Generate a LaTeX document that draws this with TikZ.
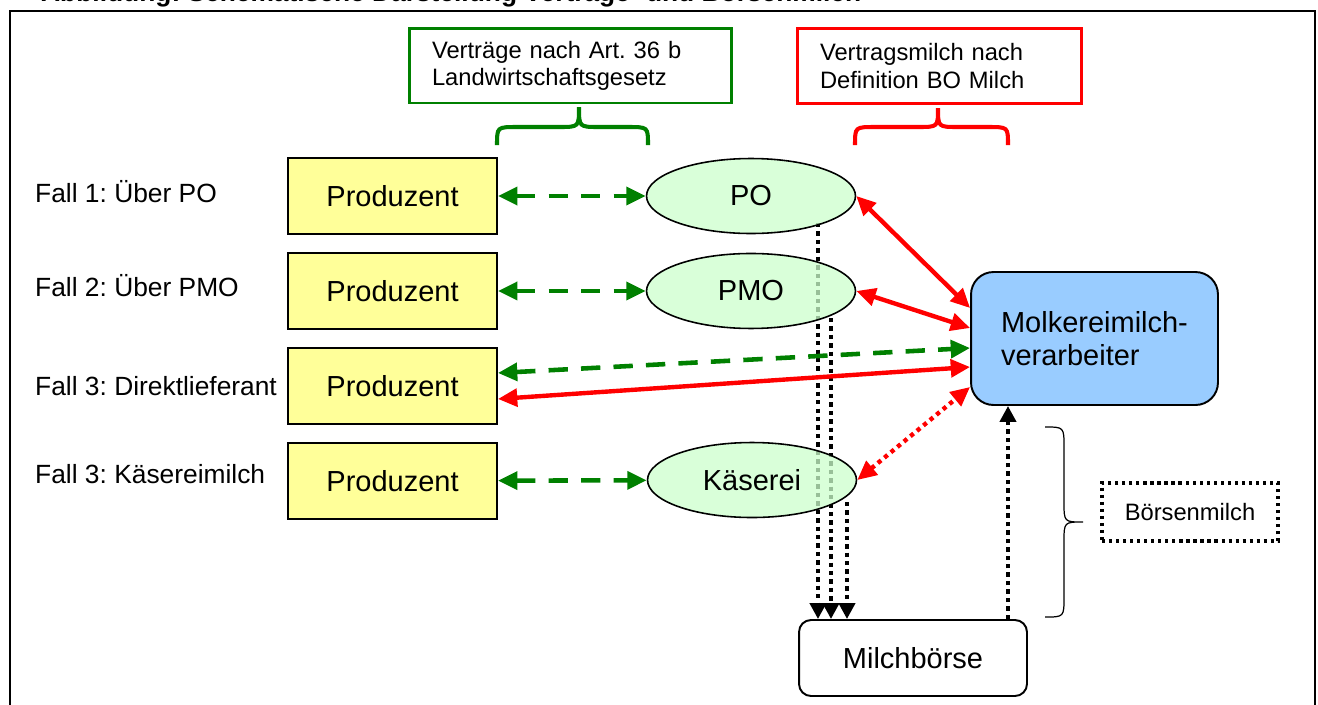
\documentclass[tikz,border=0pt]{standalone}
\usepackage{fontspec}
\setmainfont{Liberation Sans}
\usetikzlibrary{shapes.geometric,arrows.meta,positioning,backgrounds}
\definecolor{prodgelb}{HTML}{FFFF99}
\definecolor{orggruen}{HTML}{CCFFCC}
\definecolor{molkblau}{HTML}{99CCFF}
\definecolor{vgruen}{HTML}{008000}
\frenchspacing
\tikzset{
  produzent/.style = {rectangle, draw, line width=1.1pt, fill=prodgelb, minimum width=4.18cm, minimum height=1.52cm, font=\fontsize{16.5}{19}\selectfont},
  organisation/.style = {ellipse, draw, line width=0.9pt, fill=orggruen, fill opacity=0.75, text opacity=1, minimum width=4.18cm, minimum height=1.5cm, inner sep=0pt, font=\fontsize{16.5}{19}\selectfont},
  verarbeiter/.style = {rectangle, rounded corners=0.45cm, draw, line width=1.1pt, fill=molkblau, minimum width=4.94cm, minimum height=2.66cm, align=left, font=\fontsize{16.5}{18.8}\selectfont},
  boerse/.style = {rectangle, rounded corners=0.24cm, draw, line width=1.1pt, minimum width=4.56cm, minimum height=1.52cm, font=\fontsize{16.5}{19}\selectfont},
  boersenmilch/.style = {rectangle, draw, line width=1.8pt, dash pattern=on 1.8pt off 2.2pt, minimum width=3.52cm, minimum height=1.16cm, font=\fontsize{13.5}{15.4}\selectfont},
  hinweis/.style = {rectangle, draw, line width=1.7pt, align=left, inner xsep=0.46cm, minimum height=1.5cm, font=\fontsize{13.5}{15.4}\selectfont},
  fall/.style = {anchor=base west, font=\fontsize{15}{18}\selectfont},
  lieferung/.style = {<->, draw=vgruen, line width=2.6pt, dash pattern=on 11pt off 7.5pt},
  vertrag/.style = {<->, draw=red, line width=2.5pt},
  boersenfluss/.style = {->, line width=2.5pt, dash pattern=on 2.5pt off 2.3pt, >={Triangle[length=9pt,width=9pt]}},
  klammer/.style = {line width=2.3pt}
}

\begin{document}
\begin{tikzpicture}[x=0.02cm, y=-0.02cm, node distance=1.9cm, >={Triangle[length=11pt,width=10pt]}]
  \useasboundingbox (0,0) rectangle (1318,704);
  \clip (0,0) rectangle (1318,704);

  % Rahmen und Titel
  \draw[line width=1.2pt] (10,11) rectangle (1315,730);
  \node[anchor=base west, font=\bfseries\fontsize{15}{18}\selectfont] (titel) at (35,1.5) {Abbildung: Schematische Darstellung Verträge- und Börsenmilch};

  % Faelle
  \node[fall] (fall1) at (29,202) {Fall 1: Über PO};
  \node[fall] (fall2) at (29,296) {Fall 2: Über PMO};
  \node[fall] (fall3) at (29,395) {Fall 3: Direktlieferant};
  \node[fall] (fall4) at (29,483) {Fall 3: Käsereimilch};

  % Produzenten
  \node[produzent] (prod1) at (392.5,196) {Produzent};
  \node[produzent, below of=prod1] (prod2) {Produzent};
  \node[produzent, below of=prod2] (prod3) {Produzent};
  \node[produzent, below of=prod3] (prod4) {Produzent};

  % Organisationen und Verarbeiter
  \node[organisation] (po) at (751,196) {PO};
  \node[organisation, below of=po] (pmo) {PMO};
  \node[organisation] (kaeserei) at (752,480) {Käserei};
  \node[verarbeiter] (molkerei) at (1094.5,338.5) {Molkereimilch-\\verarbeiter};
  \node[boerse] (milchboerse) at (913,658) {Milchbörse};
  \node[boersenmilch] (boersenmilch) at (1190,512) {Börsenmilch};

  % Hinweise oben
  \node[hinweis, draw=vgruen, text width=5.54cm] (art36) at (570.5,65.5) {Verträge nach Art. 36 b\\Landwirtschaftsgesetz};
  \node[hinweis, draw=red, text width=4.78cm] (bomilch) at (939.5,66) {Vertragsmilch nach\\Definition BO Milch};

  % Klammern
  \draw[klammer, vgruen] (497,145) .. controls (497,127) .. (517,127) -- (559,127) .. controls (579,127) .. (579,107) .. controls (579,127) .. (599,127) -- (628,127) .. controls (648,127) .. (648,145);
  \draw[klammer, red] (855,145) .. controls (855,127) .. (875,127) -- (918,127) .. controls (938,127) .. (938,108) .. controls (938,127) .. (958,127) -- (988,127) .. controls (1008,127) .. (1008,145);
  \draw[line width=0.7pt] (1045,427) .. controls (1064,427) .. (1064,447) -- (1064,502) .. controls (1064,522) .. (1083,522) .. controls (1064,522) .. (1064,542) -- (1064,597) .. controls (1064,617) .. (1045,617);

  % Boersenmilch
  \coordinate (ab1) at ([xshift=1.34cm,yshift=-0.54cm]po.center);
  \coordinate (ab2) at ([xshift=1.6cm,yshift=-0.54cm]pmo.center);
  \coordinate (ab3) at ([xshift=1.9cm,yshift=-0.44cm]kaeserei.center);
  \coordinate (auf) at ([xshift=1.9cm]milchboerse.north);
  \begin{pgfonlayer}{background}
    \draw[boersenfluss] (ab1) -- (ab1 |- milchboerse.north);
    \draw[boersenfluss] (ab2) -- (ab2 |- milchboerse.north);
    \draw[boersenfluss] (ab3) -- (ab3 |- milchboerse.north);
  \end{pgfonlayer}
  \draw[boersenfluss] (auf) -- (auf |- molkerei.south);

  % Vertraege
  \draw[lieferung] (prod1) -- (po);
  \draw[lieferung] (prod2) -- (pmo);
  \draw[lieferung] (prod4) -- (kaeserei);
  \draw[lieferung] ([yshift=0.26cm]prod3.east) -- ([yshift=-0.19cm]molkerei.west);
  \draw[vertrag] ([yshift=-0.26cm]prod3.east) -- ([yshift=-0.57cm]molkerei.west);
  \draw[vertrag] (po.east) -- ([yshift=0.61cm]molkerei.west);
  \draw[vertrag] (pmo.east) -- ([yshift=0.21cm]molkerei.west);
  \draw[vertrag, dash pattern=on 2.4pt off 2.4pt] (kaeserei.east) -- ([yshift=-0.97cm]molkerei.west);
\end{tikzpicture}
\end{document}
